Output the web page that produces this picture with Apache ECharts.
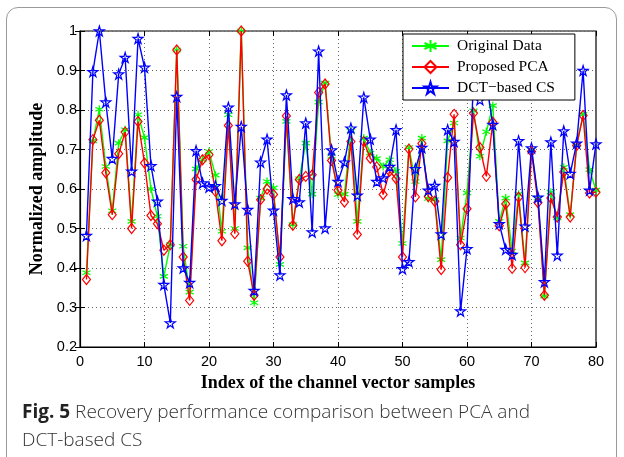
<!DOCTYPE html>
<html>
<head>
<meta charset="utf-8">
<script src="https://cdn.jsdelivr.net/npm/echarts@6/dist/echarts.min.js"></script>
<style>
  html, body { margin: 0; padding: 0; background: #fff; }
  .page { position: relative; width: 624px; height: 457px; overflow: hidden; }
  .card {
    position: absolute; left: 6px; top: 7px; width: 611px; height: 480px;
    border: 1.5px solid #9a9a9a; border-radius: 12px; box-sizing: border-box;
  }
  #chart { position: absolute; left: 0; top: 0; width: 624px; height: 457px; }
  .caption {
    position: absolute; left: 22px; top: 397px; width: 596px;
    font-family: "Open Sans", sans-serif; font-size: 19px; line-height: 28px;
    color: #333; font-weight: 300;
  }
  .caption b { font-weight: 700; color: #222; }
</style>
</head>
<body>
<div class="page">
  <div class="card"></div>
  <div id="chart"></div>
  <div class="caption"><b>Fig. 5</b> Recovery performance comparison between PCA and<br>DCT-based CS</div>
</div>
<script>
// sample index 1..80
const sampleIndex = Array.from({ length: 80 }, (_, i) => i + 1)

const originalData = [
  0.388, 0.722, 0.802, 0.657, 0.545, 0.716, 0.750, 0.518, 0.788, 0.730,
  0.600, 0.531, 0.379, 0.459, 0.952, 0.455, 0.339, 0.651, 0.674, 0.695,
  0.635, 0.493, 0.788, 0.500, 1.000, 0.451, 0.312, 0.577, 0.619, 0.603,
  0.409, 0.771, 0.510, 0.626, 0.716, 0.587, 0.820, 0.868, 0.683, 0.586,
  0.587, 0.747, 0.518, 0.729, 0.691, 0.677, 0.657, 0.674, 0.645, 0.462,
  0.705, 0.619, 0.729, 0.576, 0.573, 0.421, 0.722, 0.767, 0.476, 0.590,
  0.798, 0.683, 0.745, 0.811, 0.518, 0.577, 0.443, 0.587, 0.413, 0.699,
  0.577, 0.329, 0.592, 0.527, 0.655, 0.535, 0.712, 0.789, 0.649, 0.597
]

const pcaData = [
  0.371, 0.725, 0.774, 0.641, 0.535, 0.689, 0.744, 0.500, 0.771, 0.666,
  0.533, 0.512, 0.445, 0.459, 0.952, 0.428, 0.318, 0.624, 0.674, 0.687,
  0.594, 0.469, 0.761, 0.487, 1.000, 0.417, 0.331, 0.573, 0.600, 0.586,
  0.428, 0.785, 0.508, 0.624, 0.632, 0.636, 0.844, 0.866, 0.672, 0.597,
  0.567, 0.720, 0.485, 0.720, 0.678, 0.656, 0.586, 0.645, 0.626, 0.428,
  0.701, 0.580, 0.715, 0.581, 0.569, 0.396, 0.629, 0.789, 0.459, 0.550,
  0.792, 0.705, 0.632, 0.769, 0.507, 0.562, 0.399, 0.579, 0.401, 0.695,
  0.566, 0.331, 0.577, 0.529, 0.643, 0.529, 0.710, 0.786, 0.590, 0.592
]

const dctData = [
  0.482, 0.897, 1.000, 0.820, 0.677, 0.891, 0.933, 0.645, 0.981, 0.908,
  0.659, 0.569, 0.358, 0.261, 0.834, 0.400, 0.363, 0.697, 0.615, 0.605,
  0.608, 0.571, 0.807, 0.562, 0.758, 0.548, 0.343, 0.668, 0.726, 0.546,
  0.382, 0.838, 0.575, 0.567, 0.767, 0.491, 0.949, 0.501, 0.699, 0.619,
  0.668, 0.754, 0.584, 0.832, 0.726, 0.619, 0.628, 0.657, 0.750, 0.398,
  0.416, 0.651, 0.705, 0.597, 0.609, 0.486, 0.750, 0.720, 0.291, 0.449,
  0.880, 0.826, 0.870, 0.763, 0.512, 0.447, 0.434, 0.722, 0.506, 0.704,
  0.579, 0.365, 0.719, 0.432, 0.747, 0.639, 0.716, 0.900, 0.597, 0.714
]

const seriesNames = ['Original Data', 'Proposed PCA', 'DCT\u2212based CS']

const asteriskPath = 'path://M0,-10L0,10M-8.66,-5L8.66,5M-8.66,5L8.66,-5'
const starPath = 'path://M50,0L61,35L98,35L68,57L79,91L50,70L21,91L32,57L2,35L39,35Z'

const pairs = values => sampleIndex.map((x, i) => [x, values[i]])

const chart = echarts.init(document.getElementById('chart'), null, { renderer: 'canvas' })

const tickFont = { fontFamily: 'Liberation Sans, Arial, sans-serif', fontSize: 14.5, color: '#000' }
const titleFont = { fontFamily: 'Liberation Serif, serif', fontWeight: 'bold', fontSize: 18, color: '#000' }
const gridLine = { show: true, lineStyle: { type: [1, 3], color: '#666', width: 1 } }

chart.setOption({
  animation: false,
  grid: { left: 80, right: 28, top: 31, bottom: 110, show: true, borderColor: '#000', borderWidth: 1.2, z: 0 },
  legend: {
    orient: 'vertical',
    left: 403,
    top: 34,
    z: 20,
    itemWidth: 37,
    itemHeight: 15,
    itemGap: 5,
    padding: [4, 20, 4, 8],
    borderColor: '#000',
    borderWidth: 1,
    backgroundColor: '#fff',
    textStyle: { fontFamily: 'Liberation Serif, serif', fontSize: 15.5, color: '#000', padding: [0, 0, 0, 3] },
    data: seriesNames
  },
  xAxis: [
    {
      type: 'value',
      min: 0,
      max: 80,
      interval: 10,
      name: 'Index of the channel vector samples',
      nameLocation: 'middle',
      nameGap: 22,
      nameTextStyle: titleFont,
      axisLine: { lineStyle: { color: '#000', width: 1.2 } },
      axisTick: { inside: true, length: 5, lineStyle: { color: '#000' } },
      axisLabel: { ...tickFont, margin: 7 },
      splitLine: gridLine
    },
    {
      type: 'value', position: 'top', min: 0, max: 80, interval: 10,
      axisLine: { show: false },
      axisTick: { inside: true, length: 5, lineStyle: { color: '#000' } },
      axisLabel: { show: false },
      splitLine: { show: false }
    }
  ],
  yAxis: [
    {
      type: 'value',
      min: 0.2,
      max: 1,
      interval: 0.1,
      name: 'Normalized amplitude',
      nameLocation: 'middle',
      nameGap: 28,
      nameTextStyle: titleFont,
      axisLine: { show: true, lineStyle: { color: '#000', width: 1.2 } },
      axisTick: { show: true, inside: true, length: 5, lineStyle: { color: '#000' } },
      axisLabel: { ...tickFont, margin: 3, formatter: v => String(+v.toFixed(1)) },
      splitLine: gridLine
    },
    {
      type: 'value', position: 'right', min: 0.2, max: 1, interval: 0.1,
      axisLine: { show: false },
      axisTick: { show: true, inside: true, length: 5, lineStyle: { color: '#000' } },
      axisLabel: { show: false },
      splitLine: { show: false }
    }
  ],
  series: [
    {
      name: seriesNames[0],
      type: 'line',
      data: pairs(originalData),
      symbol: asteriskPath,
      symbolSize: 8,
      showAllSymbol: true,
      lineStyle: { color: '#00ff00', width: 1.4 },
      itemStyle: { color: '#00ff00', borderColor: '#00ff00', borderWidth: 1.3 },
      z: 2
    },
    {
      name: seriesNames[1],
      type: 'line',
      data: pairs(pcaData),
      symbol: 'diamond',
      symbolSize: [8, 10],
      showAllSymbol: true,
      lineStyle: { color: '#ff0000', width: 1.4 },
      itemStyle: { color: 'rgba(255,255,255,0)', borderColor: '#ff0000', borderWidth: 1.2 },
      z: 3
    },
    {
      name: seriesNames[2],
      type: 'line',
      data: pairs(dctData),
      symbol: starPath,
      symbolSize: 10,
      showAllSymbol: true,
      lineStyle: { color: '#0000ff', width: 1.4 },
      itemStyle: { color: 'rgba(255,255,255,0)', borderColor: '#0000ff', borderWidth: 1.2 },
      z: 4
    }
  ]
})
</script>
</body>
</html>
